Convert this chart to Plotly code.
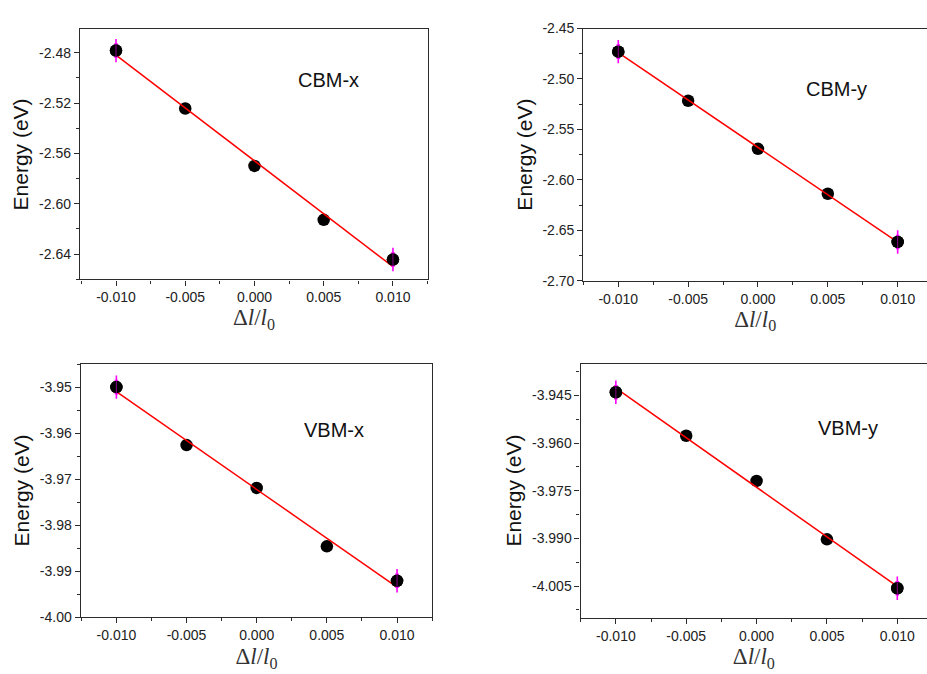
import numpy as np
import plotly.graph_objects as go
from plotly.subplots import make_subplots

# Relative strain applied along each direction
strain = [-0.010, -0.005, 0.000, 0.005, 0.010]

# Band-edge energies (eV) under strain
cbm_x = [-2.4782, -2.5243, -2.5699, -2.6128, -2.6444]
cbm_y = [-2.4729, -2.5216, -2.5693, -2.6138, -2.6616]
vbm_x = [-3.9500, -3.9626, -3.9719, -3.9846, -3.9921]
vbm_y = [-3.9440, -3.9577, -3.9719, -3.9903, -4.0057]

# Spread shown at the two end points of each set
end_spread = {"CBM-x": 0.0093, "CBM-y": 0.0116, "VBM-x": 0.00255, "VBM-y": 0.0037}

panel_names = ["CBM-x", "CBM-y", "VBM-x", "VBM-y"]

# Tick labels
strain_ticks = [-0.010, -0.005, 0.000, 0.005, 0.010]
strain_tick_text = ["-0.010", "-0.005", "0.000", "0.005", "0.010"]
cbm_x_ticks = [-2.48, -2.52, -2.56, -2.60, -2.64]
cbm_x_tick_text = ["-2.48", "-2.52", "-2.56", "-2.60", "-2.64"]
cbm_y_ticks = [-2.45, -2.50, -2.55, -2.60, -2.65, -2.70]
cbm_y_tick_text = ["-2.45", "-2.50", "-2.55", "-2.60", "-2.65", "-2.70"]
vbm_x_ticks = [-3.95, -3.96, -3.97, -3.98, -3.99, -4.00]
vbm_x_tick_text = ["-3.95", "-3.96", "-3.97", "-3.98", "-3.99", "-4.00"]
vbm_y_ticks = [-3.945, -3.960, -3.975, -3.990, -4.005]
vbm_y_tick_text = ["-3.945", "-3.960", "-3.975", "-3.990", "-4.005"]

series = [cbm_x, cbm_y, vbm_x, vbm_y]
y_tick_sets = [
    (cbm_x_ticks, cbm_x_tick_text, 0.02, [-2.6602, -2.4614]),
    (cbm_y_ticks, cbm_y_tick_text, 0.025, [-2.70, -2.45]),
    (vbm_x_ticks, vbm_x_tick_text, 0.005, [-4.00, -3.9449]),
    (vbm_y_ticks, vbm_y_tick_text, 0.0075, [-4.0149, -3.935]),
]

# Plot-area placement of each panel (paper fractions)
domains = [
    ([0.0863, 0.4617], [0.5875, 0.9674]),
    ([0.6293, 1.0], [0.5856, 0.9688]),
    ([0.0871, 0.4663], [0.0742, 0.4595]),
    ([0.6264, 1.0], [0.0737, 0.4595]),
]
x_ranges = [[-0.0126, 0.01253], [-0.0125, 0.01210], [-0.01254, 0.01251], [-0.0125, 0.01211]]
label_pos = [(0.7155, 0.797), (0.7367, 0.76), (0.7204, 0.7393), (0.7719, 0.7473)]
title_standoff = [2, 2, 5, 5]

SANS = "Liberation Sans, Arial, sans-serif"
SERIF = "Liberation Serif, Times New Roman, serif"
AXIS_COLOR = "#2b2b2b"
MAGENTA = "#ff00ff"

fig = make_subplots(rows=2, cols=2)

for i, (name, ys) in enumerate(zip(panel_names, series)):
    row, col = i // 2 + 1, i % 2 + 1
    # Linear fit through the points
    slope, intercept = np.polyfit(strain, ys, 1)
    fit = [slope * s + intercept for s in strain]

    fig.add_trace(go.Scatter(
        x=strain, y=ys, mode="markers",
        marker=dict(color="black", size=12.5, line=dict(width=0)),
        showlegend=False), row=row, col=col)
    fig.add_trace(go.Scatter(
        x=strain, y=fit, mode="lines",
        line=dict(color="#ff0000", width=1.5),
        showlegend=False), row=row, col=col)

    # Tapered magenta spikes at the two end points: a thick short bar
    # under a thin full-length one
    e = end_spread[name]
    ends_x = [strain[0], strain[-1]]
    ends_y = [ys[0], ys[-1]]
    for frac, thick in ((0.62, 3.5), (1.0, 1.6)):
        fig.add_trace(go.Scatter(
            x=ends_x, y=ends_y, mode="markers",
            marker=dict(size=1, color="rgba(0,0,0,0)"),
            error_y=dict(type="data", array=[e * frac, e * frac],
                         color=MAGENTA, thickness=thick, width=0),
            showlegend=False, hoverinfo="skip"), row=row, col=col)
    # dot drawn again on top so the magenta shows only at the tips
    fig.add_trace(go.Scatter(
        x=ends_x, y=ends_y, mode="markers",
        marker=dict(color="black", size=12.5, line=dict(width=0)),
        showlegend=False), row=row, col=col)
    fig.add_trace(go.Scatter(
        x=ends_x, y=ends_y, mode="markers",
        marker=dict(size=1, color="rgba(0,0,0,0)"),
        error_y=dict(type="data", array=[e * 0.5, e * 0.5],
                     color="rgba(255,0,255,0.55)", thickness=1, width=0),
        showlegend=False, hoverinfo="skip"), row=row, col=col)

    xd, yd = domains[i]
    tv, tt, minor_step, yr = y_tick_sets[i]
    right_side = col == 2
    fig.update_xaxes(
        domain=xd, range=x_ranges[i],
        tickmode="array", tickvals=strain_ticks, ticktext=strain_tick_text,
        ticks="outside", ticklen=5, tickwidth=1.2, tickcolor=AXIS_COLOR,
        minor=dict(tickmode="linear", tick0=0, dtick=0.0025, ticks="outside",
                   ticklen=3, tickwidth=1.2, tickcolor=AXIS_COLOR),
        showline=True, linecolor=AXIS_COLOR, linewidth=1.4, mirror=True,
        showgrid=False, zeroline=False,
        tickfont=dict(family=SANS, size=14, color="#222222"),
        title=dict(text="Δ<i>l</i>/<i>l</i><sub>0</sub>",
                   font=dict(family=SERIF, size=23, color="#333333"),
                   standoff=title_standoff[i]),
        row=row, col=col)
    fig.update_yaxes(
        domain=yd, range=yr,
        tickmode="array", tickvals=tv, ticktext=tt,
        ticks="outside", ticklen=5, tickwidth=1.2, tickcolor=AXIS_COLOR,
        minor=dict(tickmode="linear", tick0=tv[0], dtick=minor_step,
                   ticks="outside", ticklen=3, tickwidth=1.2,
                   tickcolor=AXIS_COLOR),
        showline=True, linecolor=AXIS_COLOR, linewidth=1.4,
        mirror=not right_side,
        showgrid=False, zeroline=False,
        tickfont=dict(family=SANS, size=14, color="#222222"),
        title=dict(text="Energy (eV)",
                   font=dict(family=SANS, size=21, color="#111111"),
                   standoff=4),
        row=row, col=col)

    axis_suffix = "" if i == 0 else str(i + 1)
    lx, ly = label_pos[i]
    fig.add_annotation(
        text=name, x=lx, y=ly,
        xref=f"x{axis_suffix} domain", yref=f"y{axis_suffix} domain",
        showarrow=False, xanchor="center", yanchor="middle",
        font=dict(family=SANS, size=20, color="#111111"))

fig.update_layout(
    width=927, height=674,
    margin=dict(l=0, r=0, t=0, b=0),
    paper_bgcolor="white", plot_bgcolor="white",
    showlegend=False,
)

fig.write_html("out.html")
